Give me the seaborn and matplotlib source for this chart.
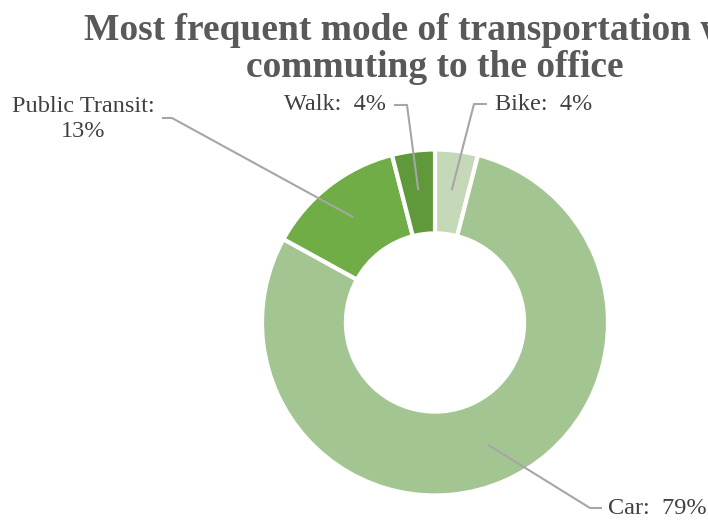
import numpy as np
import matplotlib
matplotlib.use("Agg")
import matplotlib.pyplot as plt
import seaborn as sns

categories = ["Bike", "Car", "Public Transit", "Walk"]
values = [4, 79, 13, 4]
colors = ["#c5d9b8", "#a3c592", "#70ad47", "#5f993b"]
label_texts = ["Bike:  4%", "Car:  79%", "Public Transit:\n13%", "Walk:  4%"]

sns.set_theme(style="white")
plt.rcParams['font.family'] = ['Liberation Serif', 'DejaVu Serif']

W, H = 708, 520
fig = plt.figure(figsize=(W / 100, H / 100), dpi=100)
ax = fig.add_axes([0, 0, 1, 1])

cx, cy, R = 435, H - 322.5, 173
wedges, _ = ax.pie(values, colors=colors, startangle=90, counterclock=False,
                   center=(cx, cy), radius=R,
                   wedgeprops=dict(width=R * 0.485, edgecolor='white', linewidth=3))
ax.set_xlim(0, W)
ax.set_ylim(0, H)
ax.set_aspect('equal')
ax.axis('off')

# leader lines: (elbow point, end point, text pos, ha)
layout = {
    "Bike": ((474, 104), (487, 104), (495, 104), 'left'),
    "Walk": ((407, 105), (394, 105), (386, 105), 'right'),
    "Public Transit": ((172, 118), (162, 118), (83, 119), 'center'),
    "Car": ((590, 508), (602, 508), (608, 508), 'left'),
}
lc = "#a6a6a6"
for w, cat, txt in zip(wedges, categories, label_texts):
    mid = np.deg2rad((w.theta1 + w.theta2) / 2)
    sx, sy = cx + 0.77 * R * np.cos(mid), cy + 0.77 * R * np.sin(mid)
    (ex, ey), (fx, fy), (tx, ty), ha = layout[cat]
    ax.plot([sx, ex, fx], [sy, H - ey, H - fy], color=lc, lw=1.5,
            solid_capstyle='butt', clip_on=False)
    ax.text(tx, H - ty, txt, ha=ha, va='center', fontsize=17.5, color="#404040",
            linespacing=1.3, multialignment='center')

fig.text(435 / W, 1 - 13 / H, "Most frequent mode of transportation when\ncommuting to the office",
         ha='center', va='top', fontsize=27, fontweight='bold', color="#595959",
         linespacing=1.06)

fig.savefig("out.png", dpi=100)
